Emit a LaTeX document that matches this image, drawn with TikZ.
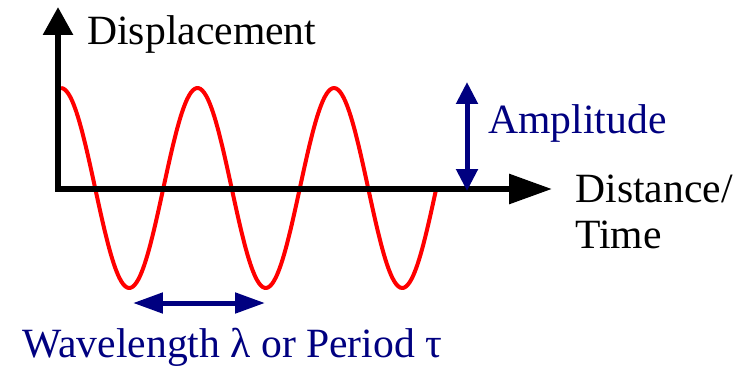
\documentclass[tikz,border=0pt]{standalone}
\usepackage{fontspec}
\setmainfont{Liberation Serif}
\usetikzlibrary{arrows.meta}
\definecolor{wavered}{RGB}{255, 0, 0}
\definecolor{labelnavy}{RGB}{0, 0, 128}

\begin{document}
\begin{tikzpicture}[
    x=0.02cm, y=-0.02cm,
    lbl/.style={inner sep=0pt, anchor=base west,
                font=\fontsize{23.7}{26}\selectfont},
    axis/.style={line width=0.12cm, line join=miter, black},
    wave/.style={line width=0.08cm, color=wavered, line join=round},
    dim/.style={line width=0.1cm, color=labelnavy},
  ]
  \useasboundingbox (0,0) rectangle (746,365);

  % ── Wave ──────────────────────────────────────
  \draw[wave] plot[domain=61:436, samples=200, smooth]
        (\x, {188-100*cos(2.6374*(\x-61))});

  % ── Axes ──────────────────────────────────────
  \coordinate (ytip)   at (58,7);
  \coordinate (origin) at (58,189);
  \coordinate (xtip)   at (552,189);

  \draw[axis, {Triangle[length=0.56cm, width=0.58cm]}-{Triangle[length=0.86cm, width=0.58cm]}]
        (ytip) -- (origin) -- (xtip);

  \node[lbl] (ylbl) at (87,44) {Displacement};
  % base of a two-line node sits on its last line
  \node[lbl, align=left] (xlbl) at (575,248) {Distance/\\Time};

  % ── Amplitude ─────────────────────────────────
  \coordinate (amptop) at (467,82);
  \coordinate (ampbot) at (467,191);
  \draw[dim, {Triangle[length=0.44cm, width=0.42cm]}-{Triangle[length=0.44cm, width=0.42cm]}]
        (amptop) -- (ampbot);
  \node[lbl, color=labelnavy] (amplbl) at (488,133) {Amplitude};

  % ── Wavelength ────────────────────────────────
  \coordinate (wlleft)  at (133,303);
  \coordinate (wlright) at (265,303);
  \draw[dim, {Triangle[length=0.6cm, width=0.4cm]}-{Triangle[length=0.6cm, width=0.4cm]}]
        (wlleft) -- (wlright);
  \node[lbl, color=labelnavy] (wllbl) at (22,357) {Wavelength λ or Period τ};

\end{tikzpicture}
\end{document}
